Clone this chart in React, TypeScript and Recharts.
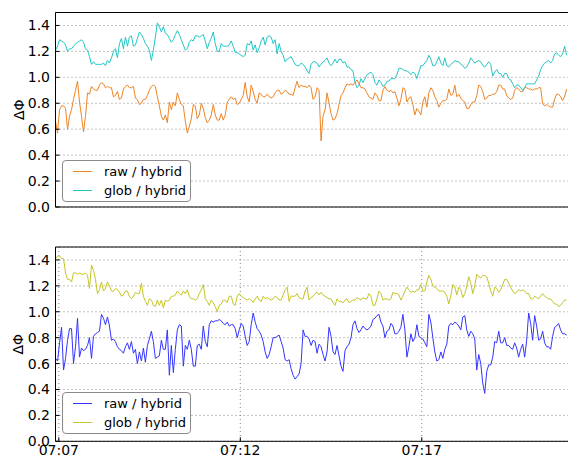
import { CartesianGrid, Line, LineChart, ReferenceLine, XAxis, YAxis } from "recharts";

// samples every 3.3 s starting a few seconds before 07:07
const sampleStartSec = -5.4;
const sampleStepSec = 3.3;

const rawTop = [
  0.66, 0.57, 0.75, 0.78, 0.78, 0.76, 0.6, 0.7, 0.75, 0.83,
  0.9, 0.97, 0.81, 0.7, 0.58, 0.7, 0.88, 0.87, 0.93, 0.91,
  0.9, 0.9, 0.94, 0.96, 0.95, 0.92, 0.93, 0.92, 0.92, 0.85,
  0.86, 0.89, 0.83, 0.84, 0.91, 0.93, 0.94, 0.92, 0.92, 0.93,
  0.84, 0.83, 0.79, 0.8, 0.83, 0.83, 0.86, 0.9, 0.93, 0.94,
  0.93, 0.85, 0.78, 0.7, 0.67, 0.71, 0.65, 0.81, 0.75, 0.81,
  0.78, 0.88, 0.83, 0.79, 0.78, 0.66, 0.57, 0.62,
  0.68, 0.79, 0.78, 0.68, 0.71, 0.8, 0.76, 0.69, 0.65, 0.67,
  0.71, 0.79, 0.71, 0.67, 0.67, 0.72, 0.67, 0.71, 0.81, 0.83,
  0.85, 0.83, 0.84, 0.79, 0.8, 0.83, 0.86, 0.96, 0.85, 0.81,
  0.94, 0.89, 0.83, 0.8, 0.88, 0.87, 0.85, 0.85, 0.87, 0.85,
  0.84, 0.85, 0.88, 0.9, 0.9, 0.87, 0.88, 0.9, 0.89, 0.87,
  0.87, 0.86, 0.92, 0.97, 0.92, 0.94, 0.93, 0.93, 0.92, 0.94,
  0.92, 0.83, 0.85, 0.92, 0.9, 0.51, 0.7, 0.75, 0.88, 0.8,
  0.72, 0.67, 0.68, 0.72, 0.79, 0.86, 0.88, 0.92, 0.95, 0.94,
  0.95, 0.94, 0.96, 0.98, 0.95, 0.92, 0.92, 0.91, 0.88, 0.85,
  0.84, 0.83, 0.88, 0.86, 0.82, 0.82, 0.9, 0.93, 0.9, 0.89,
  0.9, 0.88, 0.89, 0.84, 0.78, 0.83, 0.92, 0.91, 0.81, 0.84,
  0.85, 0.79, 0.71, 0.76, 0.74, 0.71, 0.81, 0.85, 0.77, 0.88,
  0.92, 0.9, 0.85, 0.82, 0.77, 0.8, 0.82, 0.82, 0.83, 0.91,
  0.86, 0.87, 0.94, 0.85, 0.87, 0.84, 0.82, 0.81, 0.76, 0.76,
  0.79, 0.81, 0.81, 0.86, 0.94, 0.93, 0.89, 0.83, 0.84, 0.86,
  0.86, 0.87, 0.87, 0.89, 0.94, 0.94, 0.91, 0.91, 0.86, 0.84,
  0.83, 0.84, 0.9, 0.92, 0.91, 0.89, 0.89, 0.92, 0.92, 0.91,
  0.91, 0.9, 0.91, 0.91, 0.92, 0.92, 0.8, 0.78, 0.79, 0.78,
  0.77, 0.77, 0.83, 0.87, 0.87, 0.85, 0.82, 0.85, 0.91,
];

const globTop = [
  1.21, 1.24, 1.29, 1.28, 1.27, 1.25, 1.2, 1.22, 1.22, 1.24,
  1.26, 1.27, 1.28, 1.29, 1.27, 1.22, 1.21, 1.16, 1.1, 1.12,
  1.1, 1.1, 1.1, 1.1, 1.11, 1.09, 1.13, 1.11, 1.15, 1.2,
  1.22, 1.15, 1.26, 1.3, 1.22, 1.31, 1.24, 1.31, 1.32, 1.24,
  1.25, 1.3, 1.35, 1.33, 1.3, 1.26, 1.24, 1.21, 1.13, 1.21,
  1.31, 1.42, 1.39, 1.35, 1.39, 1.34, 1.33, 1.3, 1.27, 1.29,
  1.33, 1.36, 1.33, 1.29, 1.25, 1.21, 1.22, 1.27,
  1.29, 1.28, 1.32, 1.32, 1.31, 1.32, 1.33, 1.28, 1.22, 1.27,
  1.3, 1.35, 1.26, 1.2, 1.2, 1.26, 1.24, 1.24, 1.24, 1.25,
  1.28, 1.24, 1.19, 1.19, 1.18, 1.17, 1.16, 1.17, 1.26, 1.25,
  1.28, 1.21, 1.25, 1.19, 1.23, 1.28, 1.31, 1.25, 1.31, 1.32,
  1.31, 1.26, 1.29, 1.18, 1.26, 1.2, 1.17, 1.12, 1.14, 1.15,
  1.16, 1.13, 1.1, 1.09, 1.09, 1.11, 1.1, 1.08, 1.05, 1.03,
  1.1, 1.12, 1.12, 1.11, 1.08, 1.1, 1.12, 1.13, 1.15, 1.11,
  1.09, 1.11, 1.14, 1.11, 1.14, 1.14, 1.11, 1.12, 1.08, 1.08,
  1.06, 1.05, 0.96, 0.92, 0.94, 0.99, 0.96, 0.99, 1.02, 1.03,
  1.04, 1.02, 0.96, 0.94, 0.98, 0.96, 0.93, 0.94, 0.97, 0.97,
  0.99, 0.99, 0.99, 1.02, 1.07, 1.07, 1.06, 1.05, 1.05, 1.04,
  1.02, 1.04, 1.03, 0.99, 1.04, 1.09, 1.09, 1.11, 1.13, 1.17,
  1.14, 1.09, 1.09, 1.12, 1.16, 1.11, 1.09, 1.15, 1.09, 1.08,
  1.1, 1.11, 1.13, 1.12, 1.12, 1.1, 1.09, 1.07, 1.08, 1.11,
  1.15, 1.13, 1.11, 1.12, 1.13, 1.12, 1.09, 1.08, 1.1, 1.12,
  1.1, 1.01, 1.04, 1.06, 1.03, 1.03, 1.0, 1.03, 1.03, 0.99,
  0.98, 0.95, 0.92, 0.94, 0.94, 0.92, 0.9, 0.92, 0.95, 0.95,
  0.95, 0.95, 0.95, 0.98, 1.01, 1.06, 1.09, 1.11, 1.12, 1.13,
  1.11, 1.13, 1.18, 1.19, 1.17, 1.16, 1.18, 1.24, 1.17,
];

const rawBottom = [
  0.64, 0.62, 0.76, 0.88, 0.55, 0.64, 0.78, 0.87, 0.87, 0.6,
  0.73, 0.95, 0.65, 0.72, 0.7, 0.71, 0.74, 0.8, 0.64, 0.81,
  0.83, 0.84, 0.85, 0.98, 0.95, 0.9, 0.96, 0.89, 0.78, 0.79,
  0.77, 0.73, 0.71, 0.7, 0.68, 0.73, 0.76, 0.71, 0.77, 0.68,
  0.71, 0.6, 0.69, 0.62, 0.72, 0.61, 0.74, 0.79, 0.85, 0.77,
  0.64, 0.65, 0.66, 0.78, 0.71, 0.71, 0.86, 0.51, 0.74, 0.53,
  0.71, 0.86, 0.9, 0.89, 0.58, 0.74, 0.71, 0.78,
  0.71, 0.58, 0.58, 0.74, 0.75, 0.71, 0.89, 0.77, 0.73, 0.9,
  0.93, 0.92, 0.93, 0.93, 0.94, 0.93, 0.91, 0.9, 0.92, 0.89,
  0.9, 0.9, 0.87, 0.8, 0.86, 0.91, 0.89, 0.81, 0.74, 0.77,
  0.9, 0.99, 0.92, 0.87, 0.85, 0.82, 0.77, 0.69, 0.64, 0.67,
  0.73, 0.8, 0.8, 0.81, 0.82, 0.77, 0.72, 0.63, 0.62, 0.63,
  0.56, 0.51, 0.48, 0.5, 0.52, 0.6, 0.86, 0.81, 0.81, 0.79,
  0.74, 0.78, 0.77, 0.68, 0.75, 0.73, 0.67, 0.62, 0.69, 0.88,
  0.81, 0.69, 0.67, 0.74, 0.66, 0.58, 0.54, 0.7, 0.73, 0.75,
  0.8, 0.9, 0.93, 0.87, 0.84, 0.86, 0.89, 0.87, 0.86, 0.87,
  0.89, 0.94, 0.95, 0.97, 0.98, 0.92, 0.89, 0.8, 0.85, 0.86,
  0.91, 0.89, 0.83, 0.83, 0.85, 0.88, 0.98, 0.86, 0.65, 0.73,
  0.83, 0.77, 0.8, 0.9, 0.81, 0.8, 0.79, 0.76, 0.73, 0.98,
  0.92, 0.8, 0.69, 0.62, 0.63, 0.69, 0.64, 0.71, 0.75, 0.89,
  0.91, 0.9, 0.92, 0.91, 0.89, 0.86, 0.96, 0.97, 0.86, 0.81,
  0.85, 0.83, 0.79, 0.55, 0.67, 0.6, 0.45, 0.37, 0.54, 0.59,
  0.59, 0.65, 0.77, 0.76, 0.85, 0.76, 0.76, 0.8, 0.74, 0.74,
  0.72, 0.71, 0.76, 0.72, 0.65, 0.71, 0.75, 0.65, 0.78, 0.99,
  0.91, 0.78, 0.97, 0.89, 0.78, 0.79, 0.85, 0.76, 0.73, 0.73,
  0.71, 0.81, 0.88, 0.89, 0.91, 0.86, 0.83, 0.83, 0.82,
];

const globBottom = [
  1.41, 1.43, 1.43, 1.41, 1.41, 1.3, 1.25, 1.25, 1.23, 1.3,
  1.3, 1.29, 1.3, 1.29, 1.29, 1.3, 1.28, 1.18, 1.36, 1.32,
  1.25, 1.14, 1.17, 1.23, 1.16, 1.18, 1.23, 1.2, 1.16, 1.16,
  1.18, 1.17, 1.15, 1.12, 1.13, 1.16, 1.16, 1.12, 1.1, 1.12,
  1.15, 1.14, 1.14, 1.22, 1.12, 1.08, 1.05, 1.1, 1.09, 1.05,
  1.04, 1.09, 1.05, 1.09, 1.03, 1.09, 1.08, 1.09, 1.12, 1.12,
  1.13, 1.16, 1.14, 1.13, 1.16, 1.14, 1.17, 1.12,
  1.1, 1.1, 1.09, 1.1, 1.14, 1.17, 1.21, 1.1, 1.08, 1.05,
  1.09, 1.07, 1.04, 1.0, 1.05, 1.06, 1.09, 1.09, 1.07, 1.12,
  1.12, 1.06, 1.05, 1.12, 1.14, 1.12, 1.11, 1.1, 1.09, 1.1,
  1.09, 1.07, 1.1, 1.12, 1.09, 1.08, 1.12, 1.1, 1.11, 1.1,
  1.09, 1.1, 1.12, 1.11, 1.09, 1.09, 1.13, 1.17, 1.19, 1.08,
  1.12, 1.12, 1.12, 1.14, 1.11, 1.1, 1.1, 1.16, 1.19, 1.09,
  1.11, 1.12, 1.14, 1.15, 1.13, 1.15, 1.13, 1.12, 1.11, 1.1,
  1.1, 1.07, 1.05, 1.1, 1.08, 1.08, 1.07, 1.09, 1.1, 1.07,
  1.08, 1.09, 1.09, 1.11, 1.1, 1.09, 1.11, 1.1, 1.1, 1.14,
  1.12, 1.05, 1.05, 1.1, 1.16, 1.14, 1.09, 1.1, 1.1, 1.09,
  1.1, 1.15, 1.14, 1.14, 1.13, 1.09, 1.12, 1.16, 1.19, 1.17,
  1.15, 1.16, 1.15, 1.17, 1.17, 1.21, 1.16, 1.16, 1.23, 1.28,
  1.25, 1.2, 1.19, 1.18, 1.16, 1.16, 1.16, 1.15, 1.12, 1.06,
  1.12, 1.21, 1.19, 1.13, 1.19, 1.17, 1.11, 1.14, 1.2, 1.27,
  1.22, 1.14, 1.2, 1.29, 1.27, 1.26, 1.28, 1.28, 1.27, 1.22,
  1.16, 1.12, 1.19, 1.18, 1.15, 1.17, 1.21, 1.25, 1.25, 1.22,
  1.19, 1.16, 1.14, 1.15, 1.17, 1.16, 1.17, 1.16, 1.14, 1.14,
  1.1, 1.1, 1.12, 1.11, 1.1, 1.12, 1.14, 1.12, 1.11, 1.1,
  1.1, 1.08, 1.06, 1.06, 1.04, 1.05, 1.07, 1.09, 1.09,
];

const timeTicks = [0, 300, 600];
const timeLabels = ["07:07", "07:12", "07:17"];
const yTicks = [0, 0.2, 0.4, 0.6, 0.8, 1.0, 1.2, 1.4];
const seriesNames = ["raw / hybrid", "glob / hybrid"];

const FONT = "DejaVu Sans, sans-serif";

function buildRows(raw: number[], glob: number[]) {
  return raw.map((r, i) => ({ t: sampleStartSec + i * sampleStepSec, raw: r, glob: glob[i] }));
}

interface LegendBoxProps {
  colors: string[];
  top: number;
}

function LegendBox({ colors, top }: LegendBoxProps) {
  return (
    <div
      style={{
        position: "absolute",
        left: 62,
        top,
        width: 127,
        height: 40,
        border: "1px solid #8a8a8a",
        borderRadius: 4,
        background: "#fff",
        fontFamily: FONT,
        fontSize: 13,
        color: "#000",
      }}
    >
      {seriesNames.map((name, i) => (
        <div key={name} style={{ position: "absolute", left: 0, top: 2 + i * 19, height: 18, width: "100%" }}>
          <div style={{ position: "absolute", left: 10, top: 8, width: 19, height: 1, background: colors[i] }} />
          <span style={{ position: "absolute", left: 41, top: 0, lineHeight: "18px" }}>{name}</span>
        </div>
      ))}
    </div>
  );
}

interface PanelProps {
  raw: number[];
  glob: number[];
  rawColor: string;
  globColor: string;
  height: number;
  marginTop: number;
  xAxisHeight: number;
  showTimeLabels: boolean;
  legendTop: number;
}

function Panel({ raw, glob, rawColor, globColor, height, marginTop, xAxisHeight, showTimeLabels, legendTop }: PanelProps) {
  const rows = buildRows(raw, glob);
  return (
    <div style={{ position: "relative", width: 580, height }}>
      <LineChart
        width={580}
        height={height}
        data={rows}
        margin={{ top: marginTop, right: 7, bottom: 0, left: 0.5 }}
      >
        <CartesianGrid stroke="#666" strokeDasharray="1 3" strokeWidth={0.8} />
        <XAxis
          dataKey="t"
          type="number"
          domain={[-5.5, 850]}
          allowDataOverflow
          ticks={timeTicks}
          tickFormatter={(v: number) => timeLabels[timeTicks.indexOf(v)] ?? ""}
          height={xAxisHeight}
          axisLine={{ stroke: "#000", strokeWidth: 1 }}
          tickLine={{ stroke: "#000" }}
          tickSize={-4}
          tickMargin={8}
          tick={showTimeLabels ? { fill: "#000", fontSize: 14, fontFamily: FONT } : false}
        />
        <YAxis
          type="number"
          domain={[0, 1.5]}
          ticks={yTicks}
          width={55}
          axisLine={{ stroke: "#000", strokeWidth: 1 }}
          tickLine={{ stroke: "#000" }}
          tickSize={-4}
          tickMargin={9.5}
          tick={{ fill: "#000", fontSize: 14, fontFamily: FONT }}
          tickFormatter={(v: number) => v.toFixed(1)}
          label={({ viewBox }: any) => (
            <text
              x={viewBox.x + 18}
              y={viewBox.y + viewBox.height / 2}
              transform={`rotate(-90 ${viewBox.x + 18} ${viewBox.y + viewBox.height / 2})`}
              textAnchor="middle"
              dominantBaseline="central"
              fontSize={14}
              fontFamily={FONT}
              fill="#000"
            >
              ΔΦ
            </text>
          )}
        />
        <ReferenceLine y={1.5} stroke="#000" strokeWidth={1} />
        <Line
          type="linear"
          dataKey="raw"
          stroke={rawColor}
          strokeWidth={1}
          dot={false}
          isAnimationActive={false}
        />
        <Line
          type="linear"
          dataKey="glob"
          stroke={globColor}
          strokeWidth={1}
          dot={false}
          isAnimationActive={false}
        />
      </LineChart>
      <LegendBox colors={[rawColor, globColor]} top={legendTop} />
    </div>
  );
}

export default function App() {
  return (
    <div
      style={{
        position: "absolute",
        left: 0,
        top: 0,
        width: 568,
        height: 460,
        overflow: "hidden",
        background: "#fff",
      }}
    >
      <Panel
        raw={rawTop}
        glob={globTop}
        rawColor="#ee8424"
        globColor="#22c6c6"
        height={215}
        marginTop={12.5}
        xAxisHeight={8}
        showTimeLabels={false}
        legendTop={159.5}
      />
      <Panel
        raw={rawBottom}
        glob={globBottom}
        rawColor="#3434ff"
        globColor="#c4c424"
        height={245}
        marginTop={32}
        xAxisHeight={18.7}
        showTimeLabels={true}
        legendTop={177}
      />
    </div>
  );
}
